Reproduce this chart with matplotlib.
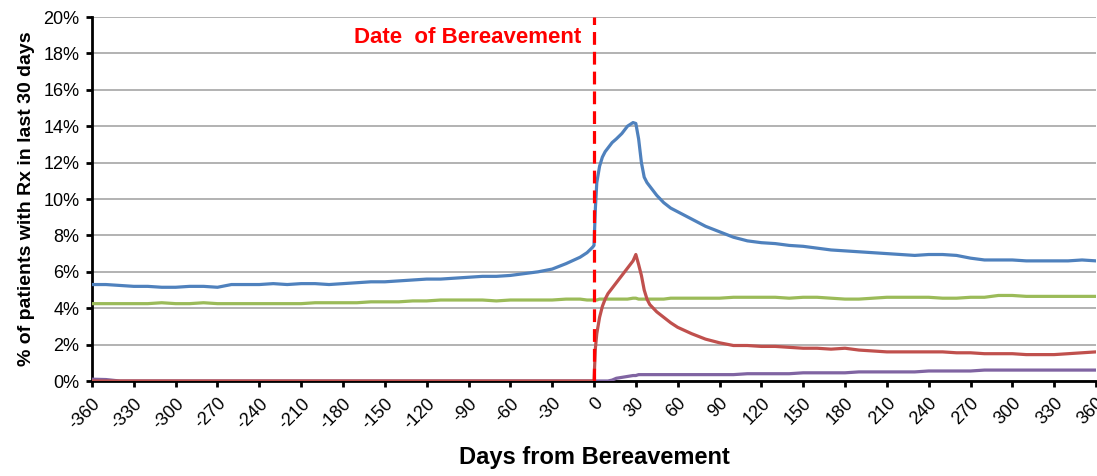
import numpy as np
import matplotlib
matplotlib.use("Agg")
import matplotlib.pyplot as plt

plt.rcParams["font.family"] = ["Liberation Sans", "DejaVu Sans"]

# days from bereavement (irregular spacing, denser around the peak)
days = list(range(-360, 0, 10)) + [-5, -1, 0, 1, 2, 4, 6, 8, 10, 13, 16, 20, 24, 28, 30,
                                   32, 34, 36, 38, 40, 45, 50, 55] + list(range(60, 361, 10))

blue = [5.3, 5.3, 5.25, 5.2, 5.2, 5.15, 5.15, 5.2, 5.2, 5.15, 5.3, 5.3, 5.3, 5.35, 5.3, 5.35,
        5.35, 5.3, 5.35, 5.4, 5.45, 5.45, 5.5, 5.55, 5.6, 5.6, 5.65, 5.7, 5.75, 5.75, 5.8, 5.9,
        6.0, 6.15, 6.45, 6.8,
        7.05, 7.35, 7.45, 9.5, 10.9, 11.8, 12.3, 12.6, 12.8, 13.1, 13.3, 13.6, 14.0, 14.2, 14.15,
        13.3, 12.0, 11.2, 10.9, 10.7, 10.2, 9.8, 9.5,
        9.3, 8.9, 8.5, 8.2, 7.9, 7.7, 7.6, 7.55, 7.45, 7.4, 7.3, 7.2, 7.15, 7.1, 7.05, 7.0,
        6.95, 6.9, 6.95, 6.95, 6.9, 6.75, 6.65, 6.65, 6.65, 6.6, 6.6, 6.6, 6.6, 6.65, 6.6]

green = [4.25, 4.25, 4.25, 4.25, 4.25, 4.3, 4.25, 4.25, 4.3, 4.25, 4.25, 4.25, 4.25, 4.25,
         4.25, 4.25, 4.3, 4.3, 4.3, 4.3, 4.35, 4.35, 4.35, 4.4, 4.4, 4.45, 4.45, 4.45, 4.45,
         4.4, 4.45, 4.45, 4.45, 4.45, 4.5, 4.5,
         4.45, 4.45, 4.45, 4.45, 4.45, 4.5, 4.5, 4.5, 4.5, 4.5, 4.5, 4.5, 4.5, 4.55, 4.55,
         4.5, 4.5, 4.5, 4.5, 4.5, 4.5, 4.5, 4.55,
         4.55, 4.55, 4.55, 4.55, 4.6, 4.6, 4.6, 4.6, 4.55, 4.6, 4.6, 4.55, 4.5, 4.5, 4.55, 4.6,
         4.6, 4.6, 4.6, 4.55, 4.55, 4.6, 4.6, 4.7, 4.7, 4.65, 4.65, 4.65, 4.65, 4.65, 4.65]

red = [0.0] * 36 + [
    0.0, 0.0, 0.0, 1.8, 2.6, 3.5, 4.1, 4.5, 4.8, 5.1, 5.4, 5.8, 6.2, 6.6, 6.95,
    6.4, 5.8, 5.0, 4.5, 4.2, 3.8, 3.5, 3.2,
    2.95, 2.6, 2.3, 2.1, 1.95, 1.95, 1.9, 1.9, 1.85, 1.8, 1.8, 1.75, 1.8, 1.7, 1.65, 1.6,
    1.6, 1.6, 1.6, 1.6, 1.55, 1.55, 1.5, 1.5, 1.5, 1.45, 1.45, 1.45, 1.5, 1.55, 1.6]

purple = [0.1, 0.08] + [0.0] * 34 + [
    0.0, 0.0, 0.0, 0.0, 0.0, 0.0, 0.0, 0.0, 0.0, 0.05, 0.15, 0.2, 0.25, 0.3, 0.3,
    0.35, 0.35, 0.35, 0.35, 0.35, 0.35, 0.35, 0.35,
    0.35, 0.35, 0.35, 0.35, 0.35, 0.4, 0.4, 0.4, 0.4, 0.45, 0.45, 0.45, 0.45, 0.5, 0.5, 0.5,
    0.5, 0.5, 0.55, 0.55, 0.55, 0.55, 0.6, 0.6, 0.6, 0.6, 0.6, 0.6, 0.6, 0.6, 0.6]

xticks = list(range(-360, 361, 30))
yticks = list(range(0, 21, 2))

fig = plt.figure(figsize=(10.97, 4.76), dpi=100)
ax = fig.add_axes([92 / 1097, 95 / 476, 1004 / 1097, 364 / 476])

lw = 2.3
ax.plot(days, purple, color="#8064A2", lw=lw, zorder=3)
ax.plot(days, green, color="#9BBB59", lw=lw, zorder=3)
ax.plot(days, red, color="#C0504D", lw=lw, zorder=3)
ax.plot(days, blue, color="#4F81BD", lw=lw, zorder=3)

ax.axvline(0, color="#FF0000", lw=2.3, ls=(0, (4, 2.2)), zorder=4)
ax.text(-9, 18.85, "Date  of Bereavement", color="#FF0000", fontsize=16,
        fontweight="bold", ha="right", va="center")

ax.set_xlim(-360, 360)
ax.set_ylim(0, 20)
ax.set_xticks(xticks)
ax.set_xticklabels([str(t) for t in xticks], rotation=45, ha="right",
                   rotation_mode="anchor", fontsize=13)
ax.set_yticks(yticks)
ax.set_yticklabels([f"{t}%" for t in yticks], fontsize=13)
ax.yaxis.grid(True, color="#A6A6A6", lw=1.2)
ax.set_axisbelow(True)

for s in ["top", "right"]:
    ax.spines[s].set_visible(False)
for s in ["left", "bottom"]:
    ax.spines[s].set_linewidth(2)
    ax.spines[s].set_color("black")
    ax.spines[s].set_zorder(2)
ax.tick_params(axis="both", direction="out", length=4, width=2, color="black")
ax.tick_params(axis="x", pad=6)
ax.tick_params(axis="y", pad=5)

ax.set_xlabel("Days from Bereavement", fontsize=17, fontweight="bold", labelpad=10)
ax.set_ylabel("% of patients with Rx in last 30 days", fontsize=14,
              fontweight="bold", labelpad=6)

fig.savefig("out.png", dpi=100)
